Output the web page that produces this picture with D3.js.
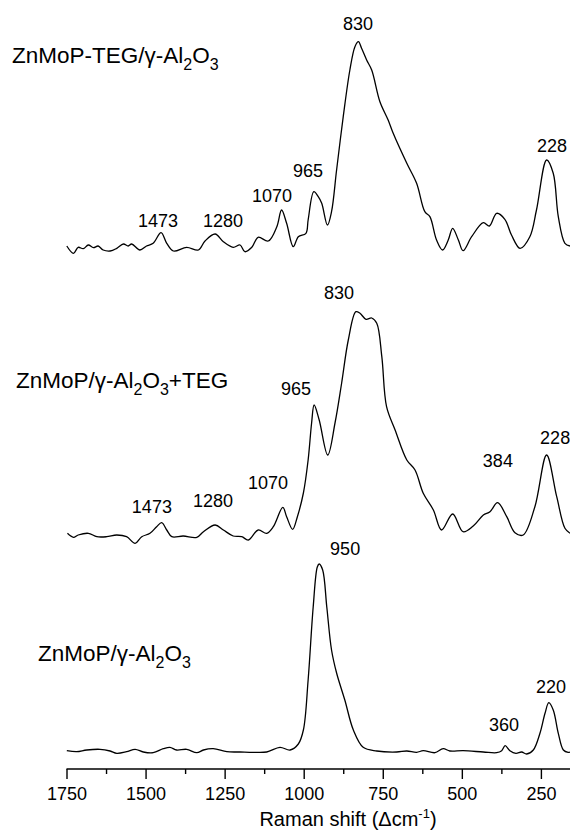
<!DOCTYPE html>
<meta charset="utf-8">
<style>
  body { margin: 0; background: #fff; }
  svg { font-family: "Liberation Sans", Arial, sans-serif; }
  .spectrum { fill: none; stroke: #000; stroke-width: 1.3px; }
  .axis path, .axis line { stroke: #000; stroke-width: 1.4px; }
  .axis text { font-size: 18px; fill: #000; }
  .peak { font-size: 18px; text-anchor: middle; }
  .name { font-size: 22.5px; }
</style>
<svg width="570" height="831"></svg>
<script src="https://d3js.org/d3.v7.min.js"></script>
<script>

// [Raman shift (cm-1), intensity (a.u.)]
var topSpectrum = [
  [1749,2],[1728,-5.3],[1713,0.7],[1697,-0.7],[1681,3],[1665,0.3],[1650,2],[1634,-2],
  [1612,-3],[1591,-0.3],[1570,4],[1555,2],[1544,4],[1518,-2],[1497,2],[1476,4.7],
  [1451,15.3],[1433,4.7],[1412,-3],[1370,0.7],[1333,-2],[1312,7],[1280,14],[1254,6.3],
  [1223,0.7],[1201,3],[1186,-3.7],[1164,0.7],[1144,10.7],[1112,7],[1085,21.3],[1070,38],
  [1054,24.7],[1033,1.3],[1017,11.3],[993,14.7],[986,28],[968,56.3],[954,51.3],[943,44.7],
  [925,23],[912,36.3],[896,78],[875,131.3],[854,178],[838,201.3],[827,206.3],[817,199.7],
  [801,188],[785,178],[759,146.3],[733,128],[717,114.7],[674,84.7],[643,64.7],[617,36.3],
  [601,31.3],[580,8],[561,-2],[543,8],[529,19.7],[511,8],[496,-2.7],[469,11.3],[432,25.3],
  [413,22],[390,34.7],[364,28.7],[343,13],[316,-0.3],[285,11.3],[264,38],[232,88],
  [211,74.7],[195,31.3],[174,4.7],[158,2]
];

var midSpectrum = [
  [1747,1.7],[1728,-2.3],[1713,0],[1681,1.7],[1654,-1.7],[1623,-1.7],[1591,0],[1560,-1.7],
  [1533,-8.3],[1512,-1.7],[1486,1.7],[1465,8.3],[1449,12.3],[1433,5],[1417,-1.7],[1381,-1],
  [1338,-2.3],[1317,3.3],[1280,10],[1254,5],[1223,-1],[1196,-1.7],[1175,-5],[1144,5],
  [1117,1.7],[1096,8.3],[1066,27.7],[1054,18.3],[1035,5.7],[1020,18.3],[1001,42],[986,75],
  [975,112],[967,130],[951,115],[924,80],[901,112],[880,152],[859,195],[835,223.3],
  [822,221.7],[803,215.7],[785,217],[769,211.7],[753,178.3],[738,128.3],[711,105],[674,75],
  [648,65],[622,41.7],[590,25],[564,5],[529,21],[496,3.3],[464,9],[432,20],[411,23.3],
  [387,32.3],[358,18.3],[332,2.3],[306,0],[269,28.3],[232,80],[200,38.3],[174,6.7],[158,1.7]
];

var bottomSpectrum = [
  [1749,0.3],[1718,-0.7],[1686,1],[1644,1.7],[1612,0],[1591,-2.3],[1560,-0.7],[1533,1.7],
  [1507,-1],[1476,-1.7],[1444,2.3],[1423,3.7],[1402,1],[1370,1.7],[1338,-1.7],[1317,1],
  [1286,2.3],[1243,-0.7],[1201,-1],[1160,-1.3],[1117,-1],[1075,3.7],[1043,1],[1017,7],
  [1001,21],[986,71],[970,144],[957,184],[951,187],[940,181],[927,144],[912,101],[896,78],
  [870,51],[843,21],[812,3.7],[769,0],[706,-1],[674,0],[643,-1.3],[622,0.3],[585,-1.7],
  [559,2.3],[538,0],[496,0.3],[432,-1],[390,-1.7],[374,0.3],[363,5.3],[348,0.3],[329,-2.3],
  [311,-1],[295,-3],[274,1],[253,17.7],[237,37.7],[225,48.3],[211,41],[195,17.7],[179,1],
  [164,-1.3],[158,-1]
];

var spectra = [topSpectrum, midSpectrum, bottomSpectrum];
var offsets = [521, 234, 18];

var majorTicks = [1750, 1500, 1250, 1000, 750, 500, 250];
var minorTicks = [1625, 1375, 1125, 875, 625, 375];

// peak labels: [shift where the label sits, text, label height in a.u.]
var topPeaks = [[1461, "1473", 542], [1255, "1280", 542], [1100, "1070", 567], [986, "965", 592], [828, "830", 739], [215, "228", 617]];
var midPeaks = [[1480, "1473", 256], [1287, "1280", 262], [1113, "1070", 280], [1024, "965", 374], [888, "830", 470], [386, "384", 302], [205, "228", 325]];
var bottomPeaks = [[869, "950", 214], [367, "360", 38], [218, "220", 76]];
var peaks = [topPeaks, midPeaks, bottomPeaks];

var svg = d3.select("svg");

var x = d3.scaleLinear().domain([1750, 158]).range([66.5, 570]);
var y = d3.scaleLinear().domain([0, 730]).range([769, 39]);

spectra.forEach(function (s, i) {
  var line = d3.line()
      .curve(d3.curveCatmullRom.alpha(0.5))
      .x(function (d) { return x(d[0]); })
      .y(function (d) { return y(d[1] + offsets[i]); });

  svg.append("path")
      .datum(s)
      .attr("class", "spectrum")
      .attr("d", line);

  svg.selectAll(".peak" + i)
      .data(peaks[i])
      .enter().append("text")
      .attr("class", "peak")
      .attr("x", function (d) { return x(d[0]); })
      .attr("y", function (d) { return y(d[2]); })
      .text(function (d) { return d[1]; });
});

// sample names with subscripts
var names = [
  {x: 12, y: 63, parts: ["ZnMoP-TEG/γ-Al", "2", "O", "3", ""]},
  {x: 16, y: 388, parts: ["ZnMoP/γ-Al", "2", "O", "3", "+TEG"]},
  {x: 38, y: 661, parts: ["ZnMoP/γ-Al", "2", "O", "3", ""]}
];

names.forEach(function (n) {
  var t = svg.append("text").attr("class", "name").attr("x", n.x).attr("y", n.y);
  n.parts.forEach(function (p, k) {
    var sub = k % 2 === 1;
    t.append("tspan")
        .attr("y", sub ? n.y + 7 : n.y)
        .style("font-size", sub ? "16px" : null)
        .text(p);
  });
});

var xAxis = d3.axisBottom(x)
    .tickValues(majorTicks)
    .tickSize(10)
    .tickSizeOuter(0)
    .tickPadding(8)
    .tickFormat(d3.format("d"));

var gx = svg.append("g")
    .attr("class", "axis")
    .attr("transform", "translate(0,769)")
    .call(xAxis);
gx.select(".domain").attr("d", "M" + x(1750) + ",0H570");
gx.selectAll("text").attr("font-family", null).attr("font-size", null);

svg.append("g")
    .attr("class", "axis")
    .attr("transform", "translate(0,769)")
    .call(d3.axisBottom(x).tickValues(minorTicks).tickSize(5).tickFormat(""))
    .select(".domain").remove();

var title = svg.append("text")
    .attr("x", 348)
    .attr("y", 826)
    .attr("text-anchor", "middle")
    .style("font-size", "20px");
title.append("tspan").text("Raman shift (Δcm");
title.append("tspan").attr("dy", -8).style("font-size", "13px").text("-1");
title.append("tspan").attr("dy", 8).text(")");

</script>
